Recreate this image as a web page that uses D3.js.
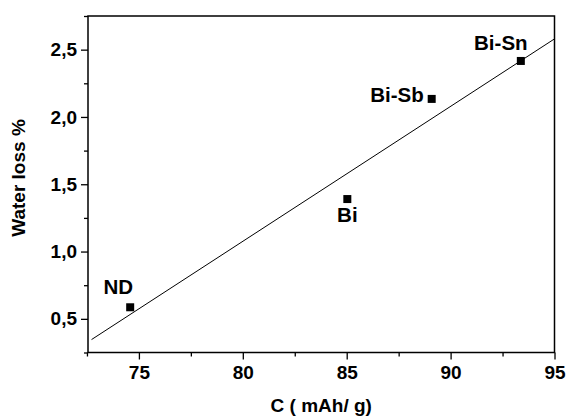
<!DOCTYPE html>
<meta charset="utf-8">
<style>
  body { margin: 0; background: #fff; }
  text { font-family: "Liberation Sans", Arial, sans-serif; font-weight: bold; fill: #000; }
</style>
<body>
<svg width="566" height="416"></svg>
<script src="https://d3js.org/d3.v7.min.js"></script>
<script>

// data
var samples = ["ND", "Bi", "Bi-Sb", "Bi-Sn"];
var capacity = [74.58, 85.03, 89.09, 93.38];     // C (mAh/g)
var waterLoss = [0.586, 1.39, 2.134, 2.416];     // %
var fitX = [72.72, 95];
var fitY = [0.346, 2.58];
var xTicks = [75, 80, 85, 90, 95];
var yTicks = [0.5, 1.0, 1.5, 2.0, 2.5];
var xMinor = [72.5, 77.5, 82.5, 87.5, 92.5];
var yMinor = [0.25, 0.75, 1.25, 1.75, 2.25, 2.75];

var svg = d3.select("svg"),
    margin = {top: 16, right: 11.5, bottom: 63.5, left: 88},
    width = +svg.attr("width") - margin.left - margin.right,
    height = +svg.attr("height") - margin.top - margin.bottom;

var g = svg.append("g").attr("transform", "translate(" + margin.left + "," + margin.top + ")");

var x = d3.scaleLinear().domain([72.55, 95]).range([0, width]);
var y = d3.scaleLinear().domain([0.25, 2.75]).range([height, 0]);

var comma = d3.formatLocale({decimal: ",", thousands: ".", grouping: [3], currency: ["", ""]}).format(".1f");

// minor ticks first
g.append("g")
    .attr("transform", "translate(0," + height + ")")
    .call(d3.axisBottom(x).tickValues(xMinor).tickSize(4).tickFormat(""))
    .call(s => s.select(".domain").remove());
g.append("g")
    .call(d3.axisLeft(y).tickValues(yMinor).tickSize(4).tickFormat(""))
    .call(s => s.select(".domain").remove());

g.append("g")
    .attr("transform", "translate(0," + height + ")")
    .call(d3.axisBottom(x).tickValues(xTicks).tickSize(7).tickPadding(6).tickFormat(d3.format("d")));
g.append("g")
    .call(d3.axisLeft(y).tickValues(yTicks).tickSize(7).tickPadding(4).tickFormat(comma));

g.selectAll(".tick line").attr("stroke-width", 1.3);
g.selectAll(".domain").remove();
g.selectAll(".tick text").style("font-size", "19px");

// frame
g.append("rect")
    .attr("width", width).attr("height", height)
    .attr("fill", "none").attr("stroke", "#000").attr("stroke-width", 1.5);

// linear fit
var line = d3.line().x(d => x(d[0])).y(d => y(d[1]));
g.append("path")
    .datum(d3.zip(fitX, fitY))
    .attr("d", line)
    .attr("fill", "none").attr("stroke", "#000").attr("stroke-width", 1);

var pts = samples.map((s, i) => ({name: s, c: capacity[i], w: waterLoss[i]}));

g.selectAll(".pt").data(pts).enter().append("rect")
    .attr("class", "pt")
    .attr("x", d => x(d.c) - 4).attr("y", d => y(d.w) - 4)
    .attr("width", 8).attr("height", 8)
    .attr("fill", "#000");

// label placement relative to the marker
var lab = {
  "ND":    {dx: -12, dy: -13, anchor: "middle"},
  "Bi":    {dx: 0,   dy: 23,  anchor: "middle"},
  "Bi-Sb": {dx: -8,  dy: 3,   anchor: "end"},
  "Bi-Sn": {dx: -20, dy: -11, anchor: "middle"}
};
g.selectAll(".lbl").data(pts).enter().append("text")
    .attr("class", "lbl")
    .attr("x", d => x(d.c) + lab[d.name].dx)
    .attr("y", d => y(d.w) + lab[d.name].dy)
    .attr("text-anchor", d => lab[d.name].anchor)
    .style("font-size", "20.5px")
    .text(d => d.name);

// axis titles
svg.append("text")
    .attr("x", margin.left + width / 2).attr("y", 412)
    .attr("text-anchor", "middle")
    .style("font-size", "19px")
    .text("C ( mAh/ g)");
svg.append("text")
    .attr("transform", "translate(25," + 178 + ") rotate(-90)")
    .attr("text-anchor", "middle")
    .style("font-size", "19px")
    .text("Water loss %");

</script>
</body>
